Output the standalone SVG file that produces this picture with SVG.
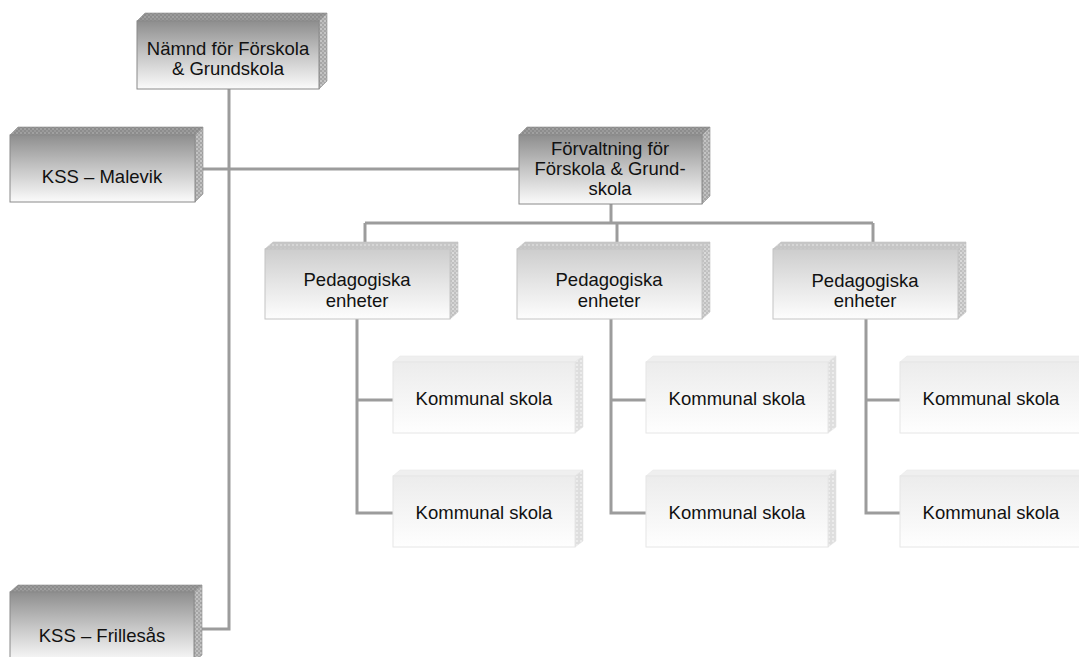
<svg xmlns="http://www.w3.org/2000/svg" width="1079" height="657" viewBox="0 0 1079 657">
<style>
text{font-family:"Liberation Sans",Arial,sans-serif;font-size:18.5px;fill:#111;text-anchor:middle}
.c{fill:none;stroke:#9c9c9c;stroke-width:3}
.fd{fill:url(#gd);stroke:#8a8a8a;stroke-width:1}
.td{fill:url(#pd);stroke:#8a8a8a;stroke-width:0.6}
.sd{fill:url(#psd);stroke:#8a8a8a;stroke-width:0.6}
.fm{fill:url(#gm);stroke:#c4c4c4;stroke-width:1}
.tm{fill:url(#pm);stroke:#c4c4c4;stroke-width:0.6}
.sm{fill:url(#psm);stroke:#c4c4c4;stroke-width:0.6}
.fl{fill:url(#gl);stroke:#e6e6e6;stroke-width:1}
.tl{fill:#efefef;stroke:#e8e8e8;stroke-width:0.6}
.sl{fill:url(#psl);stroke:#e4e4e4;stroke-width:0.6}
</style>
<defs>
<linearGradient id="gd" x1="0" y1="0" x2="0" y2="1"><stop offset="0" stop-color="#8e8e8e"/><stop offset="0.5" stop-color="#c6c6c6"/><stop offset="1" stop-color="#fbfbfb"/></linearGradient>
<linearGradient id="gm" x1="0" y1="0" x2="0" y2="1"><stop offset="0" stop-color="#cdcdcd"/><stop offset="0.5" stop-color="#e6e6e6"/><stop offset="1" stop-color="#fdfdfd"/></linearGradient>
<linearGradient id="gl" x1="0" y1="0" x2="0" y2="1"><stop offset="0" stop-color="#ececec"/><stop offset="1" stop-color="#fefefe"/></linearGradient>
<pattern id="pd" width="4" height="4" patternUnits="userSpaceOnUse"><rect width="4" height="4" fill="#8c8c8c"/><rect width="2" height="2" fill="#a0a0a0"/><rect x="2" y="2" width="2" height="2" fill="#9a9a9a"/></pattern>
<pattern id="psd" width="4" height="4" patternUnits="userSpaceOnUse"><rect width="4" height="4" fill="#a6a6a6"/><rect width="2" height="2" fill="#c4c4c4"/><rect x="2" y="2" width="2" height="2" fill="#bbbbbb"/></pattern>
<pattern id="pm" width="4" height="4" patternUnits="userSpaceOnUse"><rect width="4" height="4" fill="#c6c6c6"/><rect width="2" height="2" fill="#d6d6d6"/></pattern>
<pattern id="psm" width="4" height="4" patternUnits="userSpaceOnUse"><rect width="4" height="4" fill="#c0c0c0"/><rect width="2" height="2" fill="#dadada"/><rect x="2" y="2" width="2" height="2" fill="#d0d0d0"/></pattern>
<pattern id="psl" width="4" height="4" patternUnits="userSpaceOnUse"><rect width="4" height="4" fill="#dedede"/><rect width="2" height="2" fill="#ececec"/></pattern>
</defs>

<g id="connectors">
<polyline class="c" points="229,89 229,629 200,629"/>
<line class="c" x1="200" y1="169" x2="519" y2="169"/>
<line class="c" x1="611" y1="204" x2="611" y2="223"/>
<line class="c" x1="365" y1="223" x2="873" y2="223"/>
<line class="c" x1="365" y1="223" x2="365" y2="243"/>
<line class="c" x1="617" y1="223" x2="617" y2="243"/>
<line class="c" x1="873" y1="223" x2="873" y2="243"/>
<polyline class="c" points="393,400 357,400 357,319 357,513 393,513"/>
<polyline class="c" points="646,400 611,400 611,319 611,513 646,513"/>
<polyline class="c" points="900,400 866,400 866,319 866,513 900,513"/>
</g>

<g id="n-namnd">
<polygon class="td" points="137,21 145,13 327,13 319,21"/>
<polygon class="sd" points="319,21 327,13 327,81 319,89"/>
<rect class="fd" x="137" y="21" width="182" height="68"/>
<text x="228" y="55">Nämnd för Förskola</text>
<text x="228" y="75">&amp; Grundskola</text>
</g>

<g id="n-malevik">
<polygon class="td" points="10,135 18,127 203,127 195,135"/>
<polygon class="sd" points="195,135 203,127 203,194 195,202"/>
<rect class="fd" x="10" y="135" width="185" height="67"/>
<text x="102" y="183">KSS – Malevik</text>
</g>

<g id="n-forvaltning">
<polygon class="td" points="519,135 527,127 710,127 702,135"/>
<polygon class="sd" points="702,135 710,127 710,196 702,204"/>
<rect class="fd" x="519" y="135" width="183" height="69"/>
<text x="610" y="155">Förvaltning för</text>
<text x="610" y="175">Förskola &amp; Grund-</text>
<text x="610" y="195">skola</text>
</g>

<g id="n-ped1">
<polygon class="tm" points="265,249 273,242 458,242 450,249"/>
<polygon class="sm" points="450,249 458,242 458,312 450,319"/>
<rect class="fm" x="265" y="249" width="185" height="70"/>
<text x="357" y="286">Pedagogiska</text>
<text x="357" y="307">enheter</text>
</g>

<g id="n-ped2">
<polygon class="tm" points="517,249 525,242 710,242 702,249"/>
<polygon class="sm" points="702,249 710,242 710,312 702,319"/>
<rect class="fm" x="517" y="249" width="185" height="70"/>
<text x="609" y="286">Pedagogiska</text>
<text x="609" y="307">enheter</text>
</g>

<g id="n-ped3">
<polygon class="tm" points="773,249 781,242 966,242 958,249"/>
<polygon class="sm" points="958,249 966,242 966,312 958,319"/>
<rect class="fm" x="773" y="249" width="185" height="70"/>
<text x="865" y="287">Pedagogiska</text>
<text x="865" y="307">enheter</text>
</g>

<g id="n-k1">
<polygon class="tl" points="393,362 400,356 583,356 575,362"/>
<polygon class="sl" points="575,362 583,356 583,427 575,433"/>
<rect class="fl" x="393" y="362" width="182" height="71"/>
<text x="484" y="405">Kommunal skola</text>
</g>
<g id="n-k2">
<polygon class="tl" points="393,476 400,470 583,470 575,476"/>
<polygon class="sl" points="575,476 583,470 583,541 575,547"/>
<rect class="fl" x="393" y="476" width="182" height="71"/>
<text x="484" y="519">Kommunal skola</text>
</g>
<g id="n-k3">
<polygon class="tl" points="646,362 653,356 836,356 828,362"/>
<polygon class="sl" points="828,362 836,356 836,427 828,433"/>
<rect class="fl" x="646" y="362" width="182" height="71"/>
<text x="737" y="405">Kommunal skola</text>
</g>
<g id="n-k4">
<polygon class="tl" points="646,476 653,470 836,470 828,476"/>
<polygon class="sl" points="828,476 836,470 836,541 828,547"/>
<rect class="fl" x="646" y="476" width="182" height="71"/>
<text x="737" y="519">Kommunal skola</text>
</g>
<g id="n-k5">
<polygon class="tl" points="900,362 907,356 1090,356 1082,362"/>
<rect class="fl" x="900" y="362" width="182" height="71"/>
<text x="991" y="405">Kommunal skola</text>
</g>
<g id="n-k6">
<polygon class="tl" points="900,476 907,470 1090,470 1082,476"/>
<rect class="fl" x="900" y="476" width="182" height="71"/>
<text x="991" y="519">Kommunal skola</text>
</g>

<g id="n-frillesas">
<polygon class="td" points="10,592 18,585 202,585 194,592"/>
<polygon class="sd" points="194,592 202,585 202,655 194,662"/>
<rect class="fd" x="10" y="592" width="184" height="70"/>
<text x="102" y="642">KSS – Frillesås</text>
</g>
</svg>
